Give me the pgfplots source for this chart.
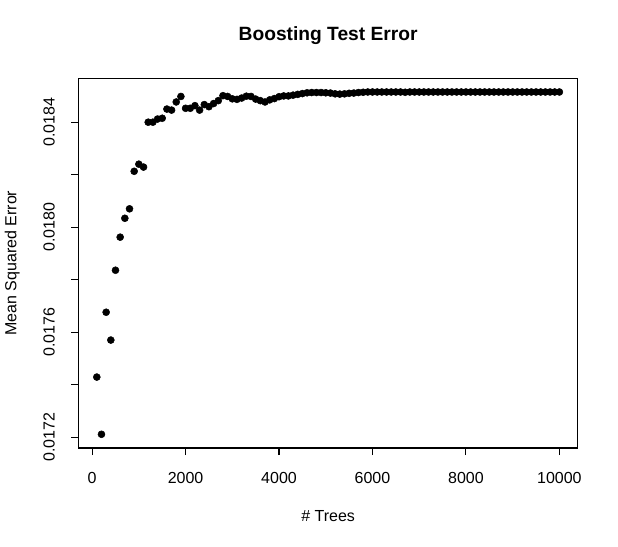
\documentclass[border=0pt]{standalone}
\usepackage{pgfplots}
\pgfplotsset{compat=1.18}
\usepackage{fontspec}
\setmainfont{Liberation Sans}
\begin{document}
\begin{tikzpicture}[x=1pt,y=1pt]
\useasboundingbox (0,0) rectangle (618,546);
\begin{axis}[
  at={(78.3pt,98pt)}, anchor=south west,
  scale only axis, width=499.6pt, height=369.7pt,
  xmin=-296, xmax=10396, ymin=0.0171588, ymax=0.0185672,
  axis line style={line width=1.1pt, black},
  tick style={line width=1.1pt, black},
  tick align=outside, major tick length=7.2pt, tick pos=left,
  xtick={0,2000,4000,6000,8000,10000},
  xticklabels={0,2000,4000,6000,8000,10000},
  ytick={0.0172,0.0174,0.0176,0.0178,0.0180,0.0182,0.0184},
  yticklabels={0.0172,,0.0176,,0.0180,,0.0184},
  scaled x ticks=false, scaled y ticks=false,
  /pgf/number format/assume math mode=true,
  ticklabel style={font=\fontsize{16}{19.2}\selectfont},
  xticklabel style={anchor=base, yshift=-28.1pt},
  yticklabel style={xshift=-16.5pt, rotate=90, anchor=base},
  xlabel={\# Trees},
  ylabel={Mean Squared Error},
  xlabel style={font=\fontsize{16}{19.2}\selectfont, at={(axis description cs:0.5,-0.1993)}, anchor=base},
  ylabel style={font=\fontsize{16}{19.2}\selectfont, at={(axis description cs:-0.1241,0.5)}, anchor=base},
  title={Boosting Test Error},
  title style={font=\fontsize{19.2}{23}\selectfont\bfseries, at={(axis description cs:0.5,1.086)}, anchor=base},
]
\addplot[only marks, mark=*, mark size=3.5pt, mark options={fill=black, draw=black, line width=0.5pt}] table {
x y
100 0.017429
200 0.017211
300 0.017676
400 0.017570
500 0.017836
600 0.017962
700 0.018034
800 0.018070
900 0.018213
1000 0.018240
1100 0.018229
1200 0.018400
1300 0.018400
1400 0.018412
1500 0.018415
1600 0.018450
1700 0.018446
1800 0.018477
1900 0.018498
2000 0.018453
2100 0.018453
2200 0.018463
2300 0.018446
2400 0.018467
2500 0.018459
2600 0.018471
2700 0.018482
2800 0.018501
2900 0.018498
3000 0.018489
3100 0.018487
3200 0.018492
3300 0.018499
3400 0.018498
3500 0.018488
3600 0.018482
3700 0.018477
3800 0.018485
3900 0.018490
4000 0.018497
4100 0.018500
4200 0.018500
4300 0.018503
4400 0.018506
4500 0.018509
4600 0.018512
4700 0.018513
4800 0.018513
4900 0.018513
5000 0.018512
5100 0.018511
5200 0.018508
5300 0.018507
5400 0.018508
5500 0.018510
5600 0.018511
5700 0.018513
5800 0.018514
5900 0.018515
6000 0.018515
6100 0.018515
6200 0.018515
6300 0.018515
6400 0.018515
6500 0.018515
6600 0.018515
6700 0.018514
6800 0.018515
6900 0.018515
7000 0.018515
7100 0.018515
7200 0.018515
7300 0.018515
7400 0.018515
7500 0.018515
7600 0.018515
7700 0.018515
7800 0.018515
7900 0.018515
8000 0.018515
8100 0.018515
8200 0.018515
8300 0.018515
8400 0.018515
8500 0.018515
8600 0.018515
8700 0.018515
8800 0.018515
8900 0.018515
9000 0.018515
9100 0.018515
9200 0.018515
9300 0.018515
9400 0.018515
9500 0.018515
9600 0.018515
9700 0.018515
9800 0.018515
9900 0.018515
10000 0.018515
};
\end{axis}
\end{tikzpicture}
\end{document}
